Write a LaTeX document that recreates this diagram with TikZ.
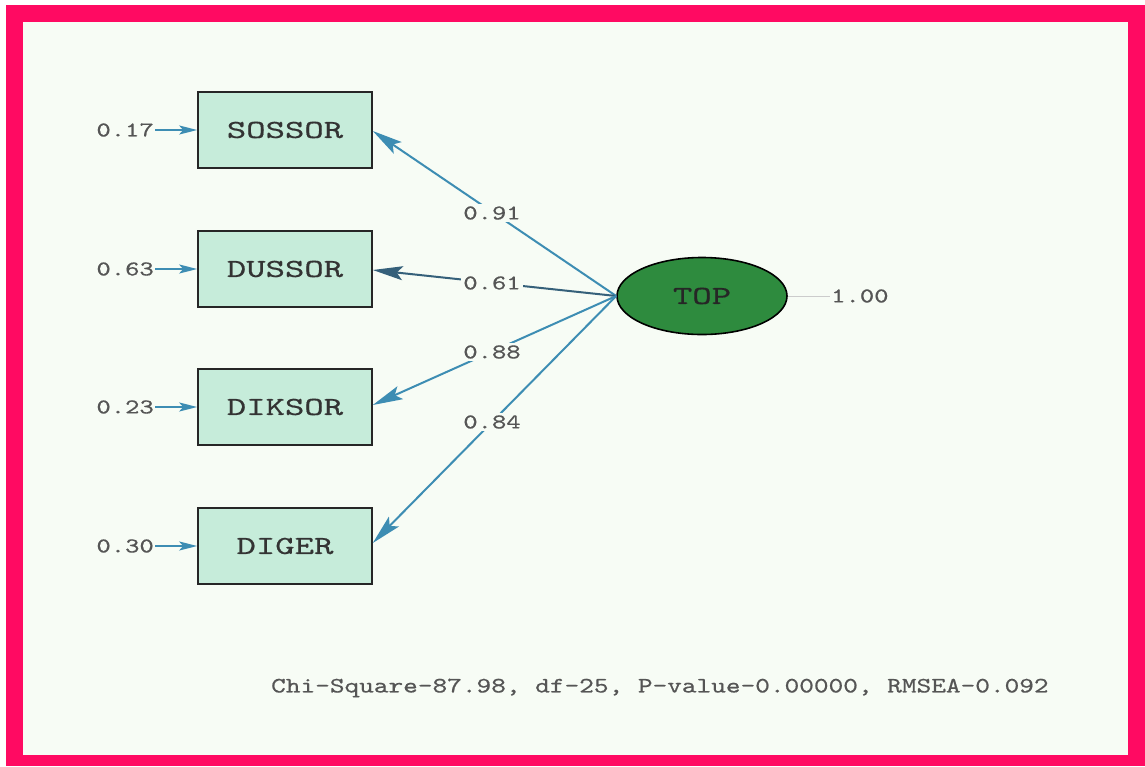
\documentclass[tikz,border=0pt]{standalone}
\usepackage{graphicx}
\usepackage{fontspec}
\newfontfamily\heavytt[FakeBold=0.5]{lmmono10-regular.otf}
\usetikzlibrary{arrows.meta,shapes.geometric}
\definecolor{pinkframe}{HTML}{FF0A62}
\definecolor{paper}{HTML}{F7FCF5}
\definecolor{boxfill}{HTML}{C6ECDA}
\definecolor{latfill}{HTML}{2E8B3E}
\definecolor{arrowblue}{HTML}{3D8DB3}
\definecolor{arrowdark}{HTML}{35607A}
\definecolor{numgray}{HTML}{555555}
\definecolor{boxtext}{HTML}{333333}
\newcommand\mytxt[3]{{\fontsize{#1}{#1}\selectfont\heavytt\scalebox{#2}[1]{#3}}}
\tikzset{
  obsbox/.style={draw=black!85, line width=1.6pt, fill=boxfill, minimum width=174pt, minimum height=76pt, inner sep=0pt, text=boxtext},
  latent/.style={ellipse, draw=black, line width=1.6pt, fill=latfill, minimum width=170pt, minimum height=77pt, inner sep=0pt, text=black!85},
  numlab/.style={text=numgray, inner sep=1pt},
  loadlab/.style={text=numgray, fill=paper, inner sep=2pt},
  load/.style={draw=arrowblue, line width=2pt, -{Stealth[length=30pt,width=14pt,inset=6pt]}},
  err/.style={draw=arrowblue, line width=2pt, -{Stealth[length=18pt,width=9pt,inset=4pt]}},
}
\begin{document}
\begin{tikzpicture}[x=1pt,y=-1pt]
\useasboundingbox (0,0) rectangle (1145,766);
\fill[white] (0,0) rectangle (1145,766);
\fill[pinkframe] (6,5) rectangle (1145,766);
\fill[paper] (23,22) rectangle (1128,755);

% observed variables
\node[obsbox] (sossor) at (285,130) {\mytxt{26}{1.42}{SOSSOR}};
\node[obsbox] (dussor) at (285,269) {\mytxt{26}{1.42}{DUSSOR}};
\node[obsbox] (diksor) at (285,407) {\mytxt{26}{1.42}{DIKSOR}};
\node[obsbox] (diger)  at (285,546) {\mytxt{26}{1.42}{DIGER}};

% latent
\node[latent] (top) at (702,296) {\mytxt{26}{1.42}{TOP}};

% error labels
\node[numlab, anchor=east] (e1) at (155,130) {\mytxt{21}{1.3}{0.17}};
\node[numlab, anchor=east] (e2) at (155,269) {\mytxt{21}{1.3}{0.63}};
\node[numlab, anchor=east] (e3) at (155,407) {\mytxt{21}{1.3}{0.23}};
\node[numlab, anchor=east] (e4) at (155,546) {\mytxt{21}{1.3}{0.30}};
\draw[err] (e1.east) -- (sossor.west);
\draw[err] (e2.east) -- (dussor.west);
\draw[err] (e3.east) -- (diksor.west);
\draw[err] (e4.east) -- (diger.west);

% variance of latent
\node[numlab, anchor=west] (v1) at (830,296) {\mytxt{21}{1.3}{1.00}};
\draw[black!20, line width=1pt] (top.east) -- (v1.west);

% loadings
\draw[load] (top.west) -- ([yshift=-1pt]sossor.east);
\draw[load, draw=arrowdark] (top.west) -- ([yshift=-1pt]dussor.east);
\draw[load] (top.west) -- ([yshift=2pt]diksor.east);
\draw[load] (top.west) -- ([yshift=3pt]diger.east);

\node[loadlab] (l1) at (492,213) {\mytxt{21}{1.3}{0.91}};
\node[loadlab] (l2) at (492,283) {\mytxt{21}{1.3}{0.61}};
\node[loadlab] (l3) at (492,352) {\mytxt{21}{1.3}{0.88}};
\node[loadlab] (l4) at (492,422) {\mytxt{21}{1.3}{0.84}};

% fit statistics
\node[numlab, anchor=west] (fit) at (270,688) {\mytxt{22}{1.27}{Chi-Square-87.98, df-25, P-value-0.00000, RMSEA-0.092}};
\end{tikzpicture}
\end{document}
